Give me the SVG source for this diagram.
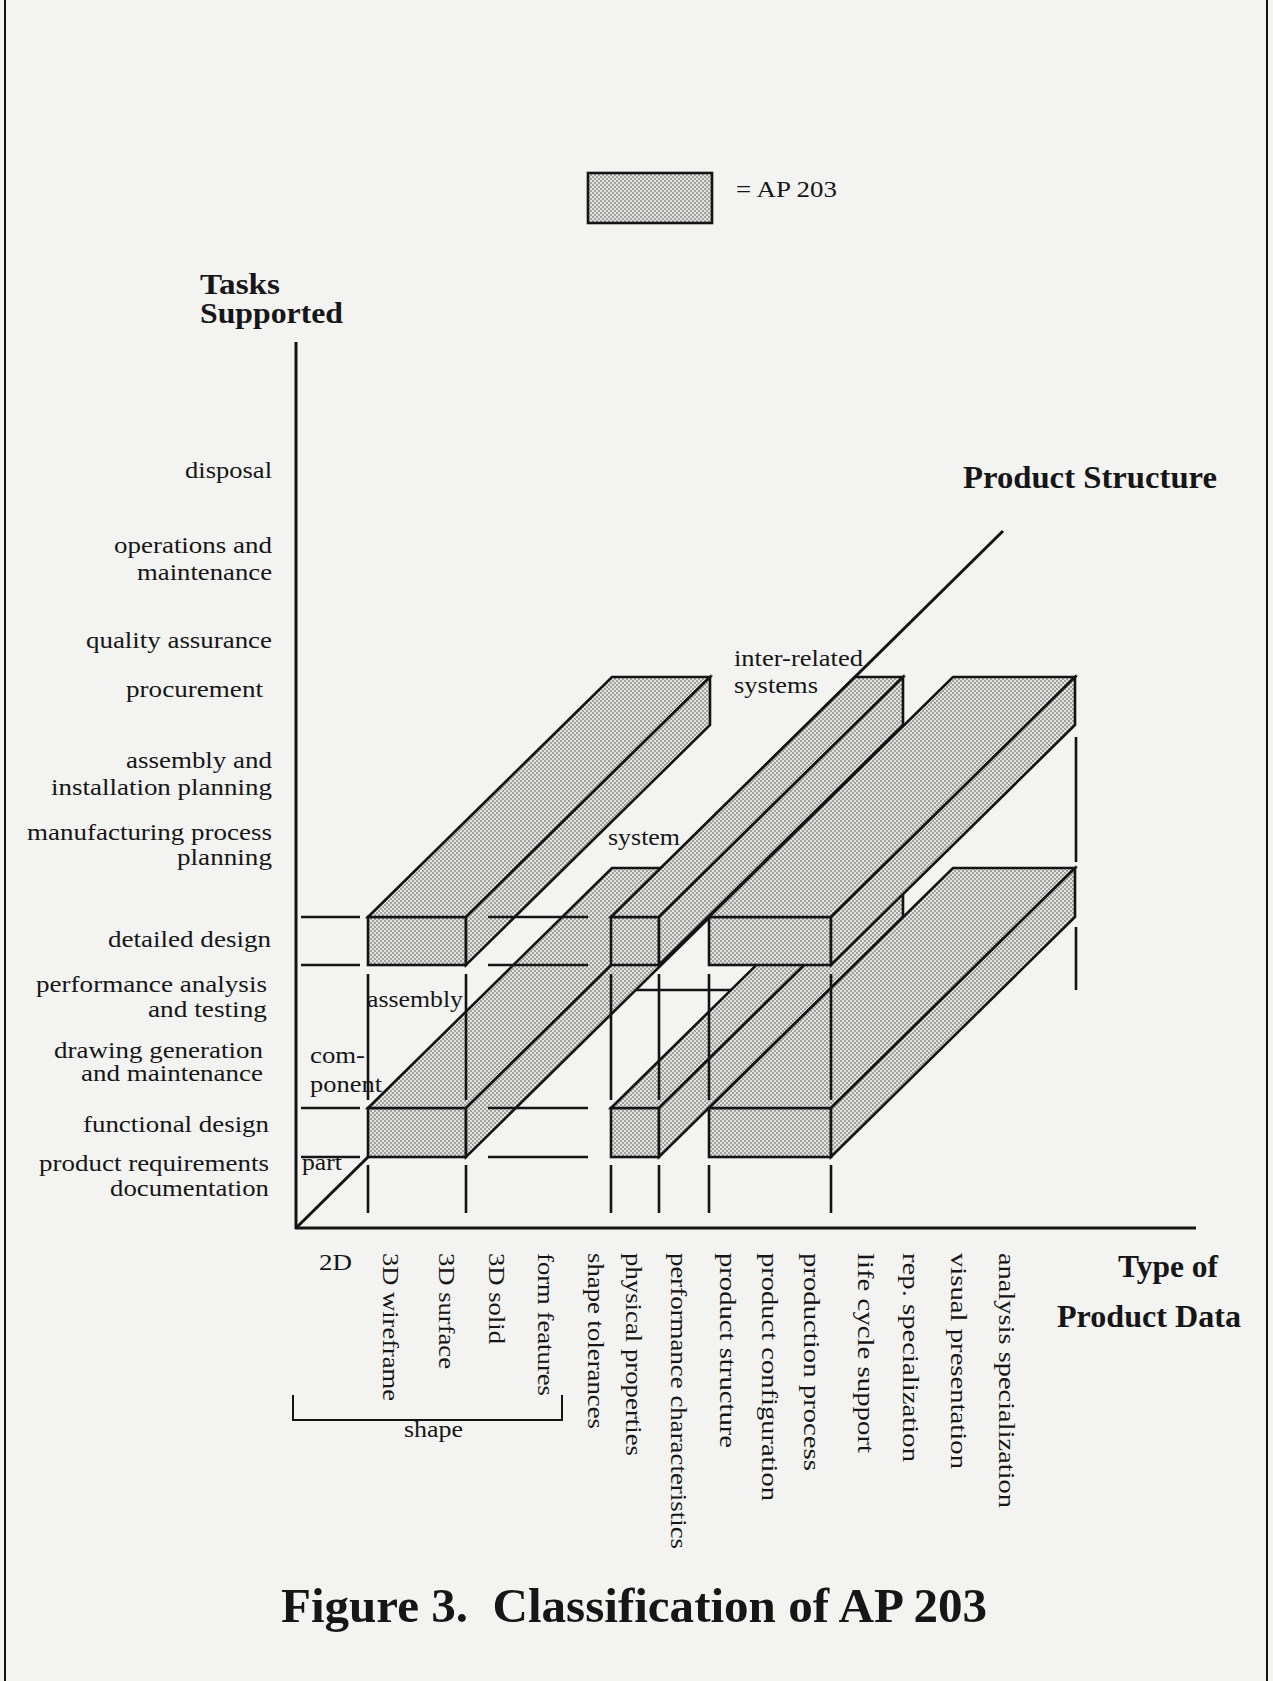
<svg xmlns="http://www.w3.org/2000/svg" width="1273" height="1681" viewBox="0 0 1273 1681">
<defs>
<pattern id="stip" width="4" height="4" patternUnits="userSpaceOnUse">
<rect width="4" height="4" fill="#e2e2e0"/>
<circle cx="1" cy="1" r="0.8" fill="#505050"/>
<circle cx="3" cy="3" r="0.8" fill="#505050"/>
</pattern>
<style>
.ln{stroke:#141414;stroke-width:2.6;fill:none;stroke-linecap:butt}
.ax{stroke:#141414;stroke-width:3;fill:none}
.bar polygon,.bar rect{fill:url(#stip);stroke:#141414;stroke-width:2.6;stroke-linejoin:miter}
.t{font-family:"Liberation Serif","Times New Roman",serif;font-size:23px;fill:#161616}
.e{text-anchor:end}
.b{font-family:"Liberation Serif","Times New Roman",serif;font-weight:bold;font-size:31px;fill:#161616}
</style>
</defs>
<rect width="1273" height="1681" fill="#f3f3f1"/>
<g id="frame" class="ln" style="stroke-width:2">
<path d="M5,0 V1681"/>
<path d="M1267,0 V1681"/>
</g>
<g id="legend">
<rect class="bar" x="588" y="173" width="124" height="50" fill="url(#stip)" stroke="#141414" stroke-width="2.6"/>
<text class="t" x="736" y="197" textLength="101" lengthAdjust="spacingAndGlyphs">= AP 203</text>
</g>
<g id="axes" class="ax">
<path d="M296,342 V1229"/>
<path d="M295,1228 H1196"/>
<path d="M296,1228 L1003,531"/>
</g>
<g id="bars">
<g id="bar-functional-shape" class="bar">
<rect x="368" y="1108" width="98" height="49"/>
<polygon points="368,1108 466,1108 710,868 612,868"/>
<polygon points="466,1108 710,868 710,917 466,1157"/>
</g>
<g id="bar-functional-physical" class="bar">
<rect x="611" y="1108" width="48" height="49"/>
<polygon points="611,1108 659,1108 903,868 855,868"/>
<polygon points="659,1108 903,868 903,917 659,1157"/>
</g>
<g id="bar-functional-product" class="bar">
<rect x="709" y="1108" width="122" height="49"/>
<polygon points="709,1108 831,1108 1075,868 953,868"/>
<polygon points="831,1108 1075,868 1075,917 831,1157"/>
</g>
<g id="bar-detailed-shape" class="bar">
<rect x="368" y="917" width="98" height="48"/>
<polygon points="368,917 466,917 710,677 612,677"/>
<polygon points="466,917 710,677 710,725 466,965"/>
</g>
<g id="bar-detailed-physical" class="bar">
<rect x="611" y="917" width="48" height="48"/>
<polygon points="611,917 659,917 903,677 855,677"/>
<polygon points="659,917 903,677 903,725 659,965"/>
</g>
<g id="bar-detailed-product" class="bar">
<rect x="709" y="917" width="122" height="48"/>
<polygon points="709,917 831,917 1075,677 953,677"/>
<polygon points="831,917 1075,677 1075,725 831,965"/>
</g>
</g>
<g id="connectors" class="ln">
<path d="M301,917 H360 M301,965 H360 M301,1108 H360 M301,1157 H360"/>
<path d="M488,917 H588 M488,965 H588 M488,1108 H588 M488,1157 H588"/>
<path d="M368,974 V1100 M466,974 V1100 M611,974 V1100 M659,974 V1100 M709,974 V1100 M831,974 V1100"/>
<path d="M368,1165 V1213 M466,1165 V1213 M611,1165 V1213 M659,1165 V1213 M709,1165 V1213 M831,1165 V1213"/>
<path d="M636,990 H731"/>
<path d="M1076,737 V862 M1076,927 V990"/>
<path d="M293,1395 V1420 H562 V1395" style="stroke-width:2"/>
</g>
<g id="tasks-labels" class="t e">
<text x="272" y="478" textLength="87" lengthAdjust="spacingAndGlyphs">disposal</text>
<text x="272" y="553" textLength="158" lengthAdjust="spacingAndGlyphs">operations and</text>
<text x="272" y="580" textLength="135" lengthAdjust="spacingAndGlyphs">maintenance</text>
<text x="272" y="648" textLength="186" lengthAdjust="spacingAndGlyphs">quality assurance</text>
<text x="263" y="697" textLength="137" lengthAdjust="spacingAndGlyphs">procurement</text>
<text x="272" y="768" textLength="146" lengthAdjust="spacingAndGlyphs">assembly and</text>
<text x="272" y="795" textLength="221" lengthAdjust="spacingAndGlyphs">installation planning</text>
<text x="272" y="840" textLength="245" lengthAdjust="spacingAndGlyphs">manufacturing process</text>
<text x="272" y="865" textLength="95" lengthAdjust="spacingAndGlyphs">planning</text>
<text x="271" y="947" textLength="163" lengthAdjust="spacingAndGlyphs">detailed design</text>
<text x="267" y="992" textLength="231" lengthAdjust="spacingAndGlyphs">performance analysis</text>
<text x="267" y="1017" textLength="119" lengthAdjust="spacingAndGlyphs">and testing</text>
<text x="263" y="1058" textLength="209" lengthAdjust="spacingAndGlyphs">drawing generation</text>
<text x="263" y="1081" textLength="182" lengthAdjust="spacingAndGlyphs">and maintenance</text>
<text x="269" y="1132" textLength="186" lengthAdjust="spacingAndGlyphs">functional design</text>
<text x="269" y="1171" textLength="230" lengthAdjust="spacingAndGlyphs">product requirements</text>
<text x="269" y="1196" textLength="159" lengthAdjust="spacingAndGlyphs">documentation</text>
</g>
<g id="structure-labels" class="t">
<text x="302" y="1170" textLength="40" lengthAdjust="spacingAndGlyphs">part</text>
<text x="310" y="1063" textLength="55" lengthAdjust="spacingAndGlyphs">com-</text>
<text x="310" y="1092" textLength="72" lengthAdjust="spacingAndGlyphs">ponent</text>
<text x="367" y="1007" textLength="96" lengthAdjust="spacingAndGlyphs">assembly</text>
<text x="608" y="845" textLength="72" lengthAdjust="spacingAndGlyphs">system</text>
<text x="734" y="666" textLength="129" lengthAdjust="spacingAndGlyphs">inter-related</text>
<text x="734" y="693" textLength="84" lengthAdjust="spacingAndGlyphs">systems</text>
</g>
<g id="data-labels" class="t">
<text x="319" y="1270" textLength="33" lengthAdjust="spacingAndGlyphs">2D</text>
<text transform="translate(383,1253) rotate(90)" textLength="148" lengthAdjust="spacingAndGlyphs">3D wireframe</text>
<text transform="translate(439,1253) rotate(90)" textLength="116" lengthAdjust="spacingAndGlyphs">3D surface</text>
<text transform="translate(489,1253) rotate(90)" textLength="91" lengthAdjust="spacingAndGlyphs">3D solid</text>
<text transform="translate(538,1253) rotate(90)" textLength="143" lengthAdjust="spacingAndGlyphs">form features</text>
<text transform="translate(588,1253) rotate(90)" textLength="176" lengthAdjust="spacingAndGlyphs">shape tolerances</text>
<text transform="translate(626,1253) rotate(90)" textLength="203" lengthAdjust="spacingAndGlyphs">physical properties</text>
<text transform="translate(671,1253) rotate(90)" textLength="296" lengthAdjust="spacingAndGlyphs">performance characteristics</text>
<text transform="translate(720,1253) rotate(90)" textLength="195" lengthAdjust="spacingAndGlyphs">product structure</text>
<text transform="translate(762,1253) rotate(90)" textLength="248" lengthAdjust="spacingAndGlyphs">product configuration</text>
<text transform="translate(804,1253) rotate(90)" textLength="218" lengthAdjust="spacingAndGlyphs">production process</text>
<text transform="translate(858,1253) rotate(90)" textLength="200" lengthAdjust="spacingAndGlyphs">life cycle support</text>
<text transform="translate(903,1253) rotate(90)" textLength="209" lengthAdjust="spacingAndGlyphs">rep. specialization</text>
<text transform="translate(951,1253) rotate(90)" textLength="216" lengthAdjust="spacingAndGlyphs">visual presentation</text>
<text transform="translate(999,1253) rotate(90)" textLength="255" lengthAdjust="spacingAndGlyphs">analysis specialization</text>
<text x="404" y="1437" textLength="59" lengthAdjust="spacingAndGlyphs">shape</text>
</g>
<g id="titles" class="b">
<text x="200" y="294" style="font-size:29px" textLength="80" lengthAdjust="spacingAndGlyphs">Tasks</text>
<text x="200" y="323" style="font-size:29px" textLength="143" lengthAdjust="spacingAndGlyphs">Supported</text>
<text x="963" y="488" textLength="254" lengthAdjust="spacingAndGlyphs">Product Structure</text>
<text x="1118" y="1277" textLength="100" lengthAdjust="spacingAndGlyphs">Type of</text>
<text x="1057" y="1327" textLength="184" lengthAdjust="spacingAndGlyphs">Product Data</text>
<text x="281" y="1622" style="font-size:49px" textLength="706" lengthAdjust="spacingAndGlyphs">Figure 3.&#160; Classification of AP 203</text>
</g>
</svg>
